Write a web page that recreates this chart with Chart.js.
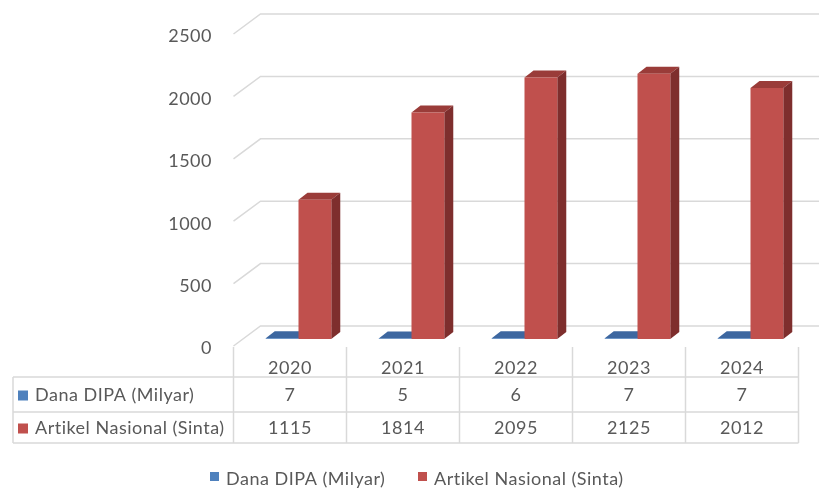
<!DOCTYPE html>
<html>
<head>
<meta charset="utf-8">
<script src="https://cdn.jsdelivr.net/npm/chart.js@4.4.1/dist/chart.umd.min.js"></script>
<style>
  html, body { margin: 0; padding: 0; background: #fff; }
  #wrap { width: 819px; height: 488px; }
</style>
</head>
<body>
<div id="wrap"><canvas id="dipaChart" width="819" height="488"></canvas></div>
<script>
// data
const years = ['2020', '2021', '2022', '2023', '2024'];
const danaDipa = [7, 5, 6, 7, 7];
const artikelNasional = [1115, 1814, 2095, 2125, 2012];
const seriesNames = ['Dana DIPA (Milyar)', 'Artikel Nasional (Sinta)'];
const yMax = 2500;
const yStep = 500;

const FONT = '18px Lato, "Noto Sans", sans-serif';
const TEXT = '#595959';
const LINE = '#d9d9d9';
const front = { dx: -8.5, dy: 7 };   // front edge of floor / table plane
const back = { dx: 18.5, dy: -13 };  // back wall
const depth = { dx: 9, dy: -7 };     // bar depth

const faces = [
    { front: '#4f81bd', top: '#3d67a0', side: '#2f5283' },
    { front: '#c0504d', top: '#9a3c39', side: '#7e2e2d' }
];

// draws the fake 3D walls, bar depth, data table and legend
const excel3d = {
    id: 'excel3d',
    beforeDatasetsDraw(chart) {
        const ctx = chart.ctx;
        const area = chart.chartArea;
        const y = chart.scales.y;

        ctx.save();
        ctx.strokeStyle = LINE;
        ctx.lineWidth = 1.5;
        y.ticks.forEach(t => {
            const py = y.getPixelForValue(t.value);
            ctx.beginPath();
            ctx.moveTo(area.left + front.dx, py + front.dy);
            ctx.lineTo(area.left + back.dx, py + back.dy);
            ctx.lineTo(area.right + back.dx, py + back.dy);
            ctx.stroke();
        });

        // top and side of each bar, the front face comes from Chart.js
        chart.data.datasets.forEach((ds, i) => {
            const meta = chart.getDatasetMeta(i);
            meta.data.forEach(bar => {
                const p = bar.getProps(['x', 'y', 'base', 'width'], true);
                const l = p.x - p.width / 2;
                const r = p.x + p.width / 2;
                ctx.fillStyle = faces[i].top;
                ctx.beginPath();
                ctx.moveTo(l, p.y);
                ctx.lineTo(r, p.y);
                ctx.lineTo(r + depth.dx, p.y + depth.dy);
                ctx.lineTo(l + depth.dx, p.y + depth.dy);
                ctx.closePath();
                ctx.fill();
                ctx.fillStyle = faces[i].side;
                ctx.beginPath();
                ctx.moveTo(r, p.y);
                ctx.lineTo(r + depth.dx, p.y + depth.dy);
                ctx.lineTo(r + depth.dx, p.base + depth.dy);
                ctx.lineTo(r, p.base);
                ctx.closePath();
                ctx.fill();
            });
        });
        ctx.restore();
    },
    afterDraw(chart) {
        const ctx = chart.ctx;
        const area = chart.chartArea;
        const x = chart.scales.x;
        const y = chart.scales.y;
        ctx.save();
        ctx.font = FONT;
        ctx.letterSpacing = '0.5px';
        ctx.fillStyle = TEXT;
        ctx.textBaseline = 'middle';

        // y tick labels
        ctx.textAlign = 'right';
        y.ticks.forEach(t => {
            ctx.fillText(String(t.value), 212, y.getPixelForValue(t.value) + 9.5);
        });

        // data table
        const half = (x.getPixelForValue(1) - x.getPixelForValue(0)) / 2;
        const tableLeft = 13;
        const colLeft = area.left + front.dx;
        const colRight = x.getPixelForValue(years.length - 1) + half + front.dx;
        const top = y.getPixelForValue(0) + 8;
        const rows = [377, 412, 443];
        ctx.strokeStyle = LINE;
        ctx.lineWidth = 1.5;
        ctx.beginPath();
        for (let i = 0; i <= years.length; i++) {
            const cx = i === 0 ? colLeft : x.getPixelForValue(i - 1) + half + front.dx;
            ctx.moveTo(cx, top);
            ctx.lineTo(cx, rows[2]);
        }
        ctx.moveTo(tableLeft, rows[0]);
        ctx.lineTo(tableLeft, rows[2]);
        rows.forEach(ry => {
            ctx.moveTo(tableLeft, ry);
            ctx.lineTo(colRight, ry);
        });
        ctx.stroke();

        ctx.textAlign = 'center';
        const series = [danaDipa, artikelNasional];
        years.forEach((yr, i) => {
            const cx = x.getPixelForValue(i) + front.dx;
            ctx.fillText(yr, cx, 368);
            series.forEach((vals, s) => {
                ctx.fillText(String(vals[i]), cx, (rows[s] + rows[s + 1]) / 2 + 1);
            });
        });
        ctx.textAlign = 'left';
        seriesNames.forEach((name, s) => {
            const cy = (rows[s] + rows[s + 1]) / 2 + 1;
            ctx.fillStyle = faces[s].front;
            ctx.fillRect(18, cy - 5, 10, 10);
            ctx.fillStyle = TEXT;
            ctx.fillText(name, 35, cy);
        });

        // legend
        const legendX = [210, 418];
        seriesNames.forEach((name, s) => {
            ctx.fillStyle = faces[s].front;
            ctx.fillRect(legendX[s], 472, 9, 9);
            ctx.fillStyle = TEXT;
            ctx.fillText(name, legendX[s] + 16, 479);
        });
        ctx.restore();
    }
};

new Chart(document.getElementById('dipaChart'), {
    type: 'bar',
    data: {
        labels: years,
        datasets: [
            { label: seriesNames[0], data: danaDipa, backgroundColor: faces[0].front },
            { label: seriesNames[1], data: artikelNasional, backgroundColor: faces[1].front }
        ]
    },
    options: {
        responsive: false,
        devicePixelRatio: 1,
        animation: false,
        categoryPercentage: 0.58,
        barPercentage: 1.0,
        layout: {
            padding: { left: 242, right: 12, top: 27, bottom: 149 }
        },
        plugins: {
            legend: { display: false },
            tooltip: { enabled: false }
        },
        scales: {
            x: { display: false },
            y: {
                display: false,
                min: 0,
                max: yMax,
                ticks: { stepSize: yStep }
            }
        }
    },
    plugins: [excel3d]
});
</script>
</body>
</html>
